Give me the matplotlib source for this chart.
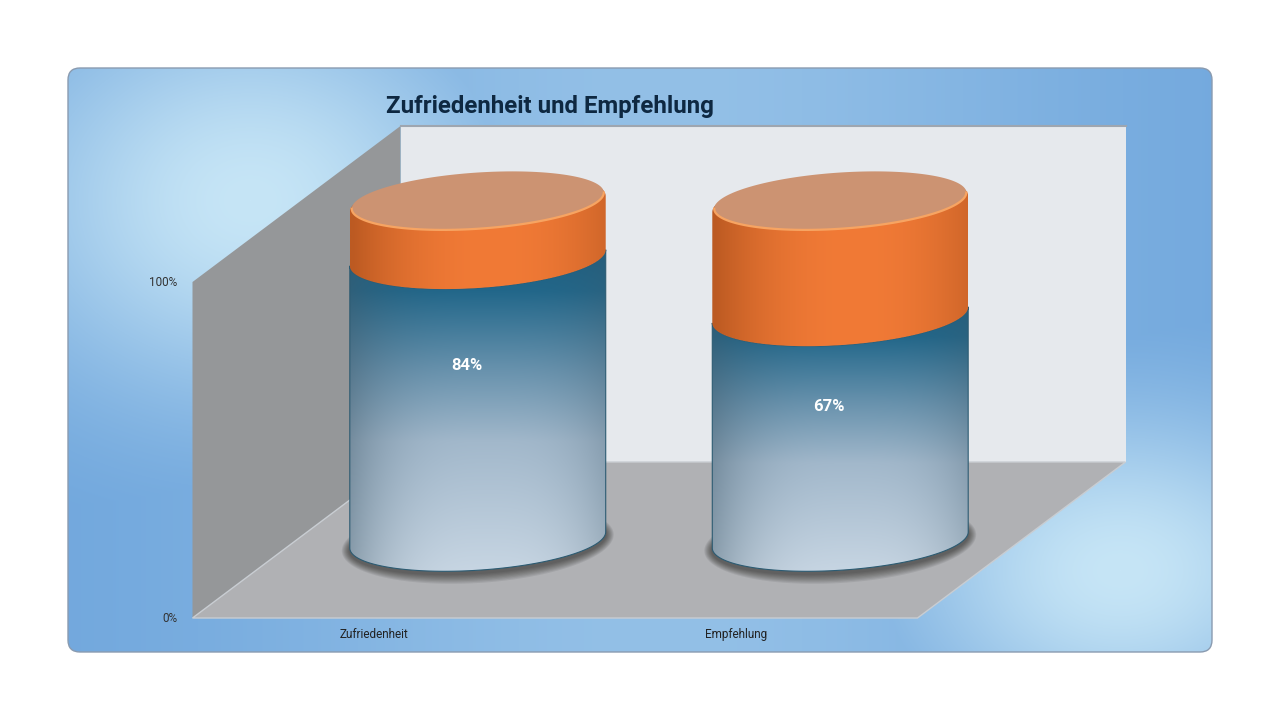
import numpy as np
import matplotlib.pyplot as plt
from matplotlib.patches import Polygon, FancyBboxPatch
from matplotlib.colors import to_rgb

# data
categories = ["Zufriedenheit", "Empfehlung"]
share = [0.84, 0.67]              # blue series (value label)
rest = [0.16, 0.33]               # orange series, stacks up to 100%
value_labels = ["84%", "67%"]
ticks = [0.0, 1.0]
tick_labels = ["0%", "100%"]
title = "Zufriedenheit und Empfehlung"

W, H = 1280, 720
fig = plt.figure(figsize=(12.8, 7.2), dpi=100)
fig.patch.set_facecolor("white")

# ---- background panel (pixel coordinates) ----
bg = fig.add_axes([0, 0, 1, 1])
bg.axis("off")
yy, xx = np.mgrid[68:653, 68:1213].astype(float)
dark = np.array(to_rgb("#6ea5dc"))
light = np.array(to_rgb("#c6e5f6"))
g1 = np.exp(-(((xx - 250) / 250) ** 2 + ((yy - 200) / 200) ** 2))
g2 = np.exp(-(((xx - 1120) / 220) ** 2 + ((yy - 570) / 160) ** 2))
g3 = 0.42 * np.exp(-(((xx - 660) / 420) ** 2))
g = np.clip(np.maximum(np.maximum(g1, g2), g3), 0, 1)
panel_img = dark + (light - dark) * g[..., None]
panel = FancyBboxPatch((68, 68), 1144, 584, boxstyle="round,pad=0,rounding_size=12",
                       facecolor="none", edgecolor="#8a9bb0", linewidth=1.0, zorder=2)
bg.add_patch(panel)
im = bg.imshow(panel_img, extent=(68, 1213, 653, 68), origin="upper", aspect="auto",
               interpolation="bilinear", zorder=1)
im.set_clip_path(panel)
bg.set_xlim(0, W)
bg.set_ylim(H, 0)
bg.text(386, 106, title, fontsize=17.3, fontweight="bold", family="Roboto",
        color="#0e2841", ha="left", va="center")

# ---- chart axes: x = category index, y = share (mid depth plane) ----
ax = fig.add_axes([0, 0, 1, 1])
ax.patch.set_alpha(0)
ax.axis("off")
x0, xs = 477.75, 362.5     # pixel of category 0, pixels per category
v0, vs = 540.0, 336.0      # pixel of 0% on mid plane, pixels per 100%
DX, DY = 104 / xs, 78 / vs  # half depth of the 3D box
A, B, S = 0.353, 0.09, 0.024  # cylinder radius, ellipse half-height, tilt


def P(i, v, d):
    return (i + d * DX, v + d * DY)


lo, hi = -0.5, len(categories) - 0.5
back = [P(lo, 0, 1), P(hi, 0, 1), P(hi, 1, 1), P(lo, 1, 1)]
left = [P(lo, 0, -1), P(lo, 1, -1), P(lo, 1, 1), P(lo, 0, 1)]
floor = [P(lo, 0, -1), P(hi, 0, -1), P(hi, 0, 1), P(lo, 0, 1)]
ax.add_patch(Polygon(back, facecolor="#e6e9ed", edgecolor="none", zorder=1))
ax.plot([back[3][0], back[2][0]], [back[3][1], back[2][1]], color="#9ea6b0", lw=1.5, zorder=1.1)
ax.add_patch(Polygon(left, facecolor="#959799", edgecolor="none", zorder=1))
ax.add_patch(Polygon(floor, facecolor="#b0b1b4", edgecolor="#c9cdd2", lw=1.0, zorder=1))

for t, lab in zip(ticks, tick_labels):
    ax.annotate(lab, xy=P(lo, t, -1), xytext=(-11, 0), textcoords="offset points",
                ha="right", va="center", fontsize=8.5, family="Roboto", color="#333333")
for i, cat in enumerate(categories):
    ax.annotate(cat, xy=P(i, 0, -1), xytext=(0, -12), textcoords="offset points",
                ha="center", va="center", fontsize=8.5, family="Roboto", color="#222222")


def arc(cx, v, t, a=A, b=B):
    return np.column_stack([cx + a * np.cos(t), v + b * np.sin(t) + S * np.cos(t)])


front = np.linspace(np.pi, 2 * np.pi, 120)
backarc = np.linspace(0, np.pi, 120)
full = np.linspace(0, 2 * np.pi, 240)


def shaded(poly, cx, ytop, ybot, colfun, z):
    clip = Polygon(poly, closed=True, facecolor="none", edgecolor="none", zorder=z)
    ax.add_patch(clip)
    u = np.linspace(-1, 1, 300)[None, :]
    w = np.linspace(0, 1, 300)[:, None]
    img = np.clip(colfun(u, w), 0, 1)
    im = ax.imshow(img, extent=(cx - A, cx + A, ybot, ytop), origin="upper",
                   aspect="auto", interpolation="bilinear", zorder=z)
    im.set_clip_path(clip)


blue_stops = [0.0, 0.2, 0.42, 0.62, 1.0]
blue_cols = np.array([to_rgb(c) for c in ["#19597a", "#22678a", "#6892ad", "#a2b8cb", "#c9d7e4"]])
edge_col = np.array(to_rgb("#3f5868"))


def blue_col(u, w):
    ww = np.broadcast_to(w, (w.shape[0], u.shape[1]))
    c = np.stack([np.interp(ww, blue_stops, blue_cols[:, k]) for k in range(3)], axis=-1)
    e = (np.clip(np.abs(u - 0.08) / 1.08, 0, 1) ** 3)[..., None]
    return c + (edge_col - c) * 0.45 * e


or_c = np.array(to_rgb("#f17a36"))
or_e = np.array(to_rgb("#bc5a22"))


def orange_col(u, w):
    e = np.clip(np.abs(u - 0.12) / 1.1, 0, 1)[..., None] ** 2.2
    return or_c + (or_e - or_c) * e + 0 * w[..., None]


for i, (vb, vr) in enumerate(zip(share, rest)):
    cx = i
    vt = vb + vr
    # tight dark shadow ring on the floor
    for k in range(8):
        grow = (8 - k) / 8
        sh = arc(cx, -0.008, full, a=A + 0.022 * grow, b=B + 0.03 * grow)
        ax.add_patch(Polygon(sh, facecolor="#1e1e1e", edgecolor="none", alpha=0.09, zorder=2))
    # blue segment
    blue_poly = np.vstack([arc(cx, 0, front), arc(cx, vb, front)[::-1]])
    shaded(blue_poly, cx, vb + B + S, -B - S, blue_col, 3)
    ax.add_patch(Polygon(blue_poly, facecolor="none", edgecolor="#2c5b72", lw=0.8, zorder=3.05))
    # orange segment
    or_poly = np.vstack([arc(cx, vb, front), arc(cx, vt, backarc)])
    shaded(or_poly, cx, vt + B + S, vb - B - S, orange_col, 3.1)
    # cap
    cap = arc(cx, vt + 0.01, full, a=A * 0.985, b=B * 0.93)
    ax.add_patch(Polygon(cap, facecolor="#cc9372", edgecolor="none", zorder=3.2))
    ax.plot(*arc(cx, vt + 0.01, front, a=A * 0.985, b=B * 0.93).T, color="#f7a462",
            lw=1.6, zorder=3.25)
    ax.text(cx - 0.03, 0.72 * vb - 0.085, value_labels[i], fontsize=12, fontweight="bold",
            family="Roboto", color="white", ha="center", va="center", zorder=5)

ax.set_xlim(-x0 / xs, (W - x0) / xs)
ax.set_ylim((v0 - H) / vs, v0 / vs)

fig.savefig("out.png", dpi=100)
